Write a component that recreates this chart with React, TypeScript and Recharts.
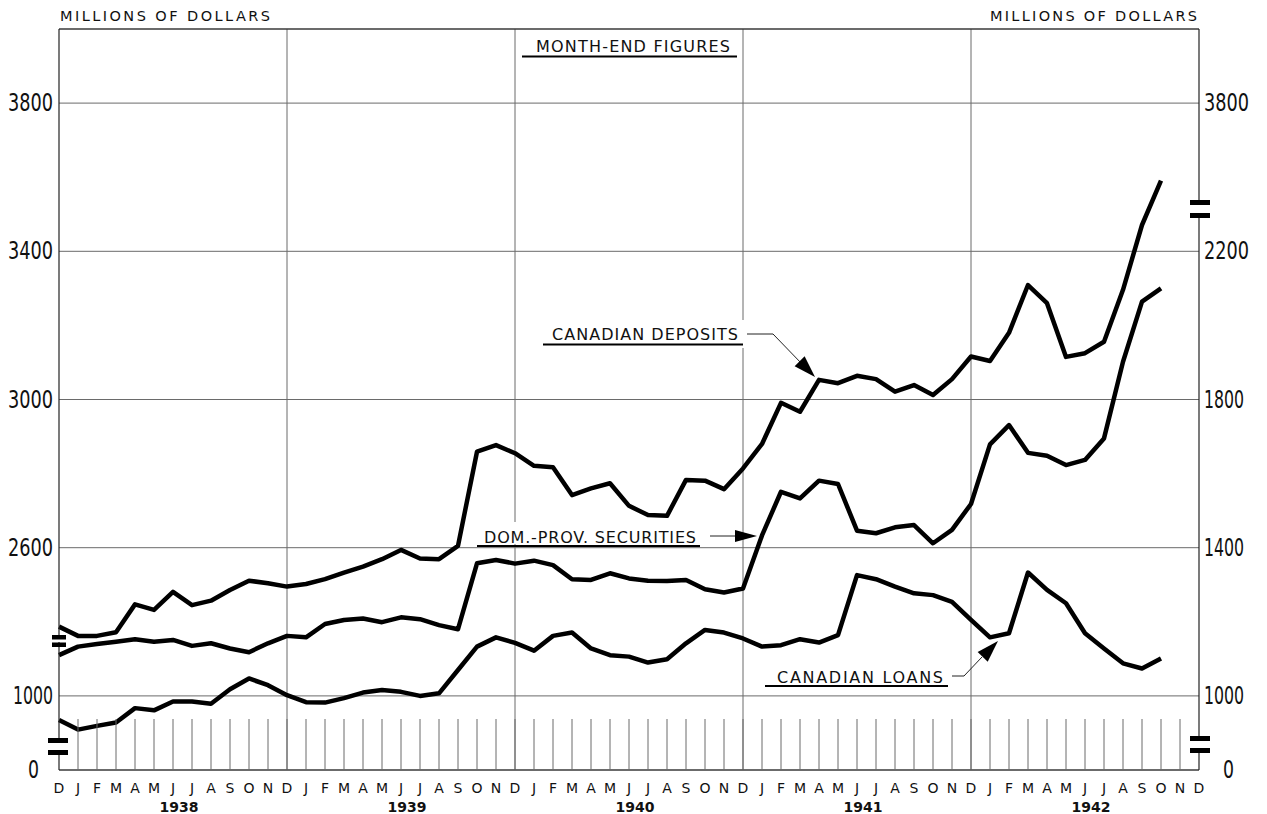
import React from 'react';
import { LineChart, Line, XAxis, YAxis, CartesianGrid, ReferenceLine } from 'recharts';

// month ticks: Dec 1937 .. Dec 1942
const monthCycle = ['J', 'F', 'M', 'A', 'M', 'J', 'J', 'A', 'S', 'O', 'N', 'D'];
const months = ['D', ...monthCycle, ...monthCycle, ...monthCycle, ...monthCycle, ...monthCycle];
const years = ['1938', '1939', '1940', '1941', '1942'];

// month-end figures, Dec 1937 .. Oct 1942 (millions of dollars)
const deposits = [
  2387, 2362, 2362, 2372, 2447, 2432, 2481, 2445, 2457, 2486, 2511, 2504, 2495,
  2502, 2515, 2533, 2549, 2569, 2594, 2571, 2569, 2605, 2859, 2877, 2855,
  2821, 2817, 2742, 2760, 2774, 2713, 2688, 2686, 2783, 2781, 2758, 2814,
  2880, 2991, 2967, 3053, 3044, 3064, 3055, 3021, 3039, 3012, 3055, 3116,
  3104, 3180, 3309, 3260, 3115, 3125, 3156, 3296, 3471, 3591,
];
const securities = [
  1110, 1133, 1140, 1146, 1153, 1146, 1151, 1135, 1142, 1128, 1118, 1142, 1162,
  1158, 1194, 1205, 1209, 1199, 1212, 1207, 1191, 1180, 1358, 1367, 1357,
  1365, 1353, 1315, 1313, 1331, 1317, 1311, 1310, 1313, 1288, 1279, 1290,
  1433, 1551, 1533, 1581, 1572, 1446, 1439, 1455, 1461, 1412, 1448, 1518,
  1679, 1731, 1656, 1648, 1623, 1637, 1695, 1902, 2064, 2100,
];
const loans = [
  935, 909, 919, 928, 967, 961, 985, 985, 979, 1018, 1047, 1029, 1002,
  983, 982, 994, 1009, 1016, 1011, 1000, 1007, 1070, 1133, 1158, 1143,
  1122, 1162, 1171, 1128, 1110, 1106, 1090, 1099, 1142, 1178, 1171, 1155,
  1133, 1137, 1153, 1144, 1164, 1326, 1315, 1295, 1277, 1272, 1254, 1205,
  1158, 1169, 1333, 1286, 1250, 1169, 1128, 1088, 1074, 1101,
];

// left scale is the right scale shifted by 1200 above the break
const leftTicks = [2000, 2200, 2600, 3000, 3400, 3800];
const leftLabels = ['0', '1000', '2600', '3000', '3400', '3800'];
const rightTicks = [800, 1000, 1400, 1800, 2200, 2600];
const rightLabels = ['0', '1000', '1400', '1800', '2200', '3800'];
const yearGrid = [12, 24, 36, 48];

const data = deposits.map((d, i) => ({
  idx: i,
  deposits: d,
  securities: securities[i],
  loans: loans[i],
}));

const numFont = "'Liberation Sans Narrow', 'DejaVu Sans Condensed', 'DejaVu Sans', sans-serif";
const letterFont = "'DejaVu Sans', 'Liberation Sans', sans-serif";
const ink = '#111';
const gridColor = '#6a6a6a';

// width of a tick number, drawn narrow like the original lettering
const numWidth = (s: string) => (s === '0' ? 11 : s.startsWith('1') ? 40 : 45);

function MonthTick(props: any) {
  const { x, y, payload } = props;
  const i = payload.value;
  return (
    <g>
      {i > 0 && i < months.length - 1 && (
        <line x1={x} x2={x} y1={y - 51} y2={y} stroke={gridColor} strokeWidth={1} />
      )}
      <text x={x} y={y + 23} textAnchor="middle" fontFamily={letterFont} fontSize={14} fill={ink}>
        {months[i]}
      </text>
      {i % 12 === 6 && (
        <text x={x + 6} y={y + 42} textAnchor="middle" fontFamily={letterFont} fontSize={14}
          fontWeight="bold" fill={ink}>
          {years[(i - 6) / 12]}
        </text>
      )}
    </g>
  );
}

function LeftTick(props: any) {
  const { x, y, payload } = props;
  const k = leftTicks.indexOf(payload.value);
  const label = leftLabels[k];
  const isZero = label === '0';
  const w = numWidth(label);
  const x0 = isZero ? x - 25 : x - w;
  return (
    <text x={x0} y={y} dy={8} textAnchor="start" fontFamily={numFont} fontSize={24} fill={ink}
      textLength={w} lengthAdjust="spacingAndGlyphs">
      {label}
    </text>
  );
}

function RightTick(props: any) {
  const { x, y, payload } = props;
  const k = rightTicks.indexOf(payload.value);
  const label = rightLabels[k];
  const isZero = label === '0';
  const w = numWidth(label);
  return (
    <text x={isZero ? x + 19 : x} y={y} dy={8} textAnchor="start" fontFamily={numFont} fontSize={24}
      fill={ink} textLength={w} lengthAdjust="spacingAndGlyphs">
      {label}
    </text>
  );
}

function Arrowhead({ tipX, tipY, fromX, fromY, len = 20, half = 6 }: any) {
  const dx = tipX - fromX;
  const dy = tipY - fromY;
  const d = Math.sqrt(dx * dx + dy * dy);
  const ux = dx / d;
  const uy = dy / d;
  const bx = tipX - ux * len;
  const by = tipY - uy * len;
  const pts = `${tipX},${tipY} ${bx - uy * half},${by + ux * half} ${bx + uy * half},${by - ux * half}`;
  return <polygon points={pts} fill="#000" />;
}

function Overlay() {
  const label = { fontFamily: letterFont, fontSize: 16, fill: ink } as const;
  return (
    <svg width={1267} height={814} style={{ position: 'absolute', left: 0, top: 0, pointerEvents: 'none' }}>
      <text x={60} y={21} fontFamily={letterFont} fontSize={14.5} fill={ink} textLength={210} lengthAdjust="spacing">
        MILLIONS OF DOLLARS
      </text>
      <text x={990} y={21} fontFamily={letterFont} fontSize={14.5} fill={ink} textLength={207} lengthAdjust="spacing">
        MILLIONS OF DOLLARS
      </text>

      {/* scale breaks */}
      <rect x={52} y={639} width={14} height={3} fill="#fff" />
      <rect x={52} y={635} width={14} height={4.5} fill="#000" />
      <rect x={52} y={642.5} width={14} height={4.5} fill="#000" />
      <rect x={48} y={743} width={20} height={7} fill="#fff" />
      <rect x={48} y={738} width={20} height={5} fill="#000" />
      <rect x={48} y={750} width={20} height={5} fill="#000" />
      <rect x={1190} y={205} width={20} height={8} fill="#fff" />
      <rect x={1190} y={200} width={20} height={5} fill="#000" />
      <rect x={1190} y={213} width={20} height={5} fill="#000" />
      <rect x={1190} y={741} width={20} height={7} fill="#fff" />
      <rect x={1190} y={736} width={20} height={5} fill="#000" />
      <rect x={1190} y={748} width={20} height={5} fill="#000" />

      <text x={536} y={52} {...label} textLength={194} lengthAdjust="spacing">MONTH-END FIGURES</text>
      <line x1={522} x2={737} y1={56.5} y2={56.5} stroke="#000" strokeWidth={2} />

      <rect x={545} y={320} width={203} height={28} fill="#fff" />
      <text x={552} y={340} {...label} textLength={186} lengthAdjust="spacing">CANADIAN DEPOSITS</text>
      <line x1={543} x2={743} y1={344.5} y2={344.5} stroke="#000" strokeWidth={2} />
      <polyline points="747,334 773,334 803,365" fill="none" stroke="#222" strokeWidth={1} />
      <Arrowhead tipX={815} tipY={377} fromX={773} fromY={334} len={22} half={7} />

      <rect x={478} y={522} width={222} height={22} fill="#fff" />
      <text x={484} y={543} {...label} textLength={212} lengthAdjust="spacing">DOM.-PROV. SECURITIES</text>
      <line x1={477} x2={700} y1={546} y2={546} stroke="#000" strokeWidth={2} />
      <line x1={710} x2={738} y1={536} y2={536} stroke="#222" strokeWidth={1} />
      <Arrowhead tipX={757} tipY={536} fromX={710} fromY={536} len={22} half={6} />

      <rect x={768} y={663} width={180} height={22} fill="#fff" />
      <text x={777} y={683} {...label} textLength={166} lengthAdjust="spacing">CANADIAN LOANS</text>
      <line x1={765} x2={948} y1={686} y2={686} stroke="#000" strokeWidth={2} />
      <polyline points="952,676 964,676 982,657" fill="none" stroke="#222" strokeWidth={1} />
      <Arrowhead tipX={998} tipY={641} fromX={964} fromY={676} len={22} half={7} />
    </svg>
  );
}

export default function App() {
  return (
    <div style={{ position: 'absolute', left: 0, top: 0, width: 1267, height: 814, background: '#fff' }}>
      <LineChart width={1267} height={814} data={data} margin={{ top: 29, right: 0, bottom: 0, left: 0 }}>
        <CartesianGrid yAxisId="left" vertical={false} stroke={gridColor} strokeWidth={1} />
        <XAxis
          dataKey="idx"
          type="number"
          domain={[0, months.length - 1]}
          ticks={months.map((_, i) => i)}
          interval={0}
          height={44}
          tickSize={0}
          tickMargin={0}
          tickLine={false}
          tick={<MonthTick />}
          axisLine={{ stroke: '#222', strokeWidth: 1.2 }}
        />
        <YAxis
          yAxisId="left"
          domain={[2000, 4000]}
          ticks={leftTicks}
          interval={0}
          width={59}
          tickSize={0}
          tickMargin={6}
          tickLine={false}
          tick={<LeftTick />}
          axisLine={{ stroke: '#222', strokeWidth: 1.2 }}
          allowDataOverflow
        />
        <YAxis
          yAxisId="right"
          orientation="right"
          domain={[800, 2800]}
          ticks={rightTicks}
          interval={0}
          width={68}
          tickSize={0}
          tickMargin={5}
          tickLine={false}
          tick={<RightTick />}
          axisLine={{ stroke: '#222', strokeWidth: 1.2 }}
          allowDataOverflow
        />
        {yearGrid.map((m) => (
          <ReferenceLine key={m} x={m} yAxisId="left" stroke={gridColor} strokeWidth={1} />
        ))}
        <ReferenceLine y={4000} yAxisId="left" stroke="#222" strokeWidth={1.2} />
        <Line yAxisId="left" type="linear" dataKey="deposits" stroke="#000" strokeWidth={4.5}
          dot={false} isAnimationActive={false} strokeLinejoin="round" />
        <Line yAxisId="right" type="linear" dataKey="securities" stroke="#000" strokeWidth={4.5}
          dot={false} isAnimationActive={false} strokeLinejoin="round" />
        <Line yAxisId="right" type="linear" dataKey="loans" stroke="#000" strokeWidth={4.5}
          dot={false} isAnimationActive={false} strokeLinejoin="round" />
      </LineChart>
      <Overlay />
    </div>
  );
}
